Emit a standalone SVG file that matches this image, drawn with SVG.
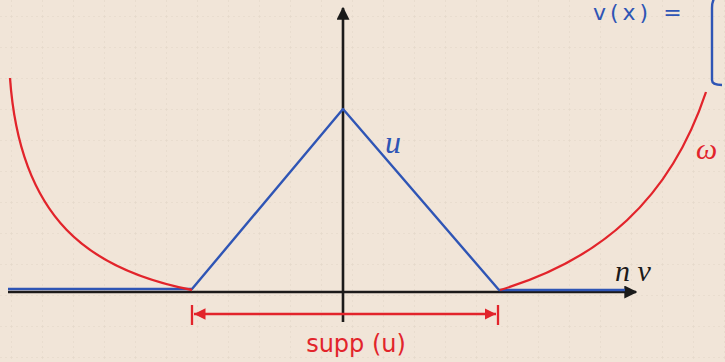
<svg xmlns="http://www.w3.org/2000/svg" width="725" height="362" viewBox="0 0 725 362">
<defs>
<pattern id="grid" width="31" height="31" patternUnits="userSpaceOnUse" x="11" y="16">
<path d="M0 0H31M0 0V31" fill="none" stroke="#d6c9ba" stroke-width="1" stroke-dasharray="2 3"/>
</pattern>
<marker id="ah" viewBox="0 0 10 10" refX="9" refY="5" markerWidth="5" markerHeight="5" orient="auto" markerUnits="strokeWidth">
<path d="M0 0L10 5L0 10Z" fill="#1a1a1a"/>
</marker>
<marker id="rh" viewBox="0 0 10 10" refX="10" refY="5" markerWidth="5" markerHeight="5" orient="auto-start-reverse" markerUnits="strokeWidth">
<path d="M0 0L10 5L0 10Z" fill="#e2242b"/>
</marker>
</defs>
<style>
.ax{stroke:#1c1a1a;stroke-width:2.6;fill:none}
.bl{stroke:#2f55b5;stroke-width:2.4;fill:none;stroke-linejoin:round}
.rd{stroke:#e2242b;stroke-width:2.3;fill:none}
.lbl{font-family:"Liberation Serif",serif;font-style:italic}
</style>
<rect width="725" height="362" fill="#f1e5d8"/>
<rect width="725" height="362" fill="url(#grid)" opacity="0.6"/>
<g id="connectors">
<line class="ax" x1="8" y1="292" x2="636" y2="292" marker-end="url(#ah)"/>
<line class="ax" x1="343" y1="322" x2="343" y2="8" marker-end="url(#ah)"/>
</g>
<g id="u">
<polyline class="bl" points="8,289 192,289 343,109 499,290 625,290"/>
<text class="lbl" x="385" y="153" font-size="32" fill="#2f55b5">u</text>
</g>
<g id="w">
<path class="rd" d="M10,78 C20,220 90,270 192,290"/>
<path class="rd" d="M500,290 C600,260 670,200 706,92"/>
<text class="lbl" x="696" y="159" font-size="30" fill="#e2242b">ω</text>
</g>
<g id="nv">
<text class="lbl" x="615" y="281" font-size="30" fill="#1c1a1a">n v</text>
</g>
<g id="supp">
<line class="rd" x1="194" y1="314" x2="496" y2="314" marker-start="url(#rh)" marker-end="url(#rh)"/>
<line class="rd" x1="192" y1="305" x2="192" y2="325"/>
<line class="rd" x1="498" y1="305" x2="498" y2="325"/>
<text x="356" y="352" font-family="DejaVu Sans, sans-serif" font-size="24" fill="#e2242b" text-anchor="middle">supp (u)</text>
</g>
<g id="vx">
<text x="593" y="20" font-family="DejaVu Sans, sans-serif" font-size="22" letter-spacing="4" fill="#2f55b5">v(x) =</text>
<path class="bl" d="M716,-4 Q712,0 712,8 L712,80 Q712,85 722,85"/>
</g>
</svg>
